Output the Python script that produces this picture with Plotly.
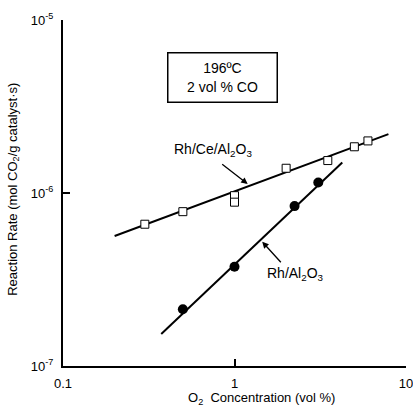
import plotly.graph_objects as go

# Rh/Ce/Al2O3 (open squares)
ce_o2 = [0.3, 0.5, 1.0, 1.0, 2.0, 3.5, 5.0, 6.0]
ce_rate = [6.6e-7, 7.8e-7, 9.65e-7, 8.85e-7, 1.39e-6, 1.54e-6, 1.85e-6, 2.0e-6]
ce_fit_o2 = [0.2, 7.9]
ce_fit_rate = [5.64e-7, 2.19e-6]

# Rh/Al2O3 (filled circles)
al_o2 = [0.5, 1.0, 2.24, 3.08]
al_rate = [2.13e-7, 3.75e-7, 8.4e-7, 1.15e-6]
al_fit_o2 = [0.374, 4.25]
al_fit_rate = [1.53e-7, 1.5e-6]

x_ticks = [0.1, 1, 10]
x_ticktext = ["0.1", "1", "10"]
y_ticks = [1e-7, 1e-6, 1e-5]
y_ticktext = ["10<sup>-7</sup>", "10<sup>-6</sup>", "10<sup>-5</sup>"]

FONT = "Liberation Sans, Arial, Helvetica, sans-serif"

fig = go.Figure()
fig.add_trace(go.Scatter(x=ce_fit_o2, y=ce_fit_rate, mode="lines",
                         line=dict(color="black", width=2), showlegend=False))
fig.add_trace(go.Scatter(x=al_fit_o2, y=al_fit_rate, mode="lines",
                         line=dict(color="black", width=2), showlegend=False))
fig.add_trace(go.Scatter(x=ce_o2, y=ce_rate, mode="markers",
                         marker=dict(symbol="square", size=8, color="white",
                                     line=dict(color="black", width=1)),
                         showlegend=False))
fig.add_trace(go.Scatter(x=al_o2, y=al_rate, mode="markers",
                         marker=dict(symbol="circle", size=10, color="black"),
                         showlegend=False))

# Conditions box
fig.add_annotation(x=0.466, y=0.835, xref="paper", yref="paper",
                   xanchor="center", yanchor="middle",
                   text="196ºC<br>2 vol % CO", showarrow=False,
                   width=96, height=36,
                   font=dict(family=FONT, size=14, color="black"),
                   bordercolor="black", borderwidth=1.5, borderpad=6,
                   align="center")

# Series labels
fig.add_annotation(x=-0.128, y=-5.751, xref="x", yref="y",
                   text="Rh/Ce/Al<sub>2</sub>O<sub>3</sub>", showarrow=False,
                   xanchor="center", yanchor="middle",
                   font=dict(family=FONT, size=14, color="black"))
fig.add_annotation(x=0.356, y=-6.468, xref="x", yref="y",
                   text="Rh/Al<sub>2</sub>O<sub>3</sub>", showarrow=False,
                   xanchor="center", yanchor="middle",
                   font=dict(family=FONT, size=14, color="black"))

# Leader arrows from labels to their lines
fig.add_annotation(x=0.077, y=-5.948, xref="x", yref="y", text="",
                   showarrow=True, arrowhead=2, arrowsize=1, arrowwidth=1.3,
                   arrowcolor="black", ax=-27, ay=-21)
fig.add_annotation(x=0.1615, y=-6.2815, xref="x", yref="y", text="",
                   showarrow=True, arrowhead=2, arrowsize=1, arrowwidth=1.3,
                   arrowcolor="black", ax=20, ay=22)

# Axis titles
fig.add_annotation(x=0.58, y=-0.093, xref="paper", yref="paper",
                   text="O<sub>2</sub>  Concentration (vol %)", showarrow=False,
                   xanchor="center", yanchor="middle",
                   font=dict(family=FONT, size=13, color="black"))
fig.add_annotation(x=-0.145, y=0.51, xref="paper", yref="paper",
                   text="Reaction Rate (mol CO<sub>2</sub>/g catalyst·s)",
                   showarrow=False, textangle=-90,
                   xanchor="center", yanchor="middle",
                   font=dict(family=FONT, size=13, color="black"))

fig.update_xaxes(type="log", range=[-1, 1], tickvals=x_ticks, ticktext=x_ticktext,
                 ticks="inside", ticklen=7, tickwidth=1.5, tickcolor="black",
                 showline=True, linecolor="black", linewidth=2,
                 showgrid=False, zeroline=False, ticklabelstandoff=4,
                 ticklabeloverflow="allow", automargin=False,
                 tickfont=dict(family=FONT, size=13, color="black"))
fig.update_yaxes(type="log", range=[-7, -5], tickvals=y_ticks, ticktext=y_ticktext,
                 ticks="inside", ticklen=7, tickwidth=1.5, tickcolor="black",
                 showline=True, linecolor="black", linewidth=2,
                 showgrid=False, zeroline=False, ticklabelstandoff=5,
                 ticklabeloverflow="allow", automargin=False,
                 tickfont=dict(family=FONT, size=13, color="black"))

fig.update_layout(width=413, height=411,
                  margin=dict(l=63, r=7, t=20, b=45),
                  plot_bgcolor="white", paper_bgcolor="white",
                  font=dict(family=FONT, color="black"))

fig.write_html("out.html")
